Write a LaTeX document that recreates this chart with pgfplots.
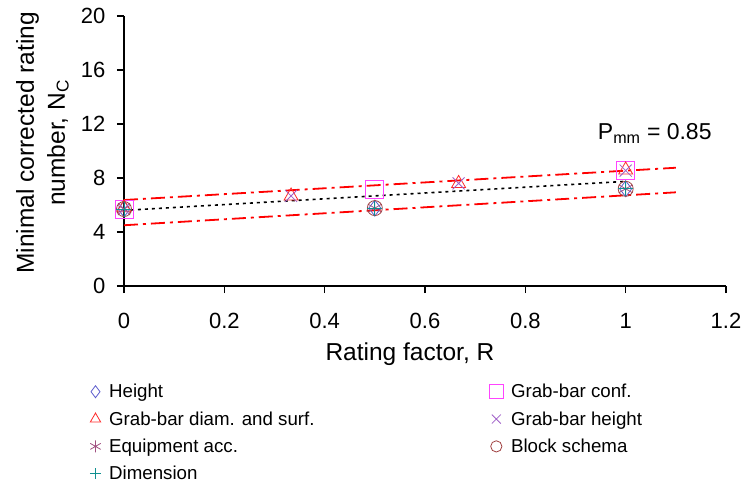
\documentclass[border=0pt]{standalone}
\usepackage{fontspec}
\setmainfont{Liberation Sans}
\usepackage{pgfplots}
\pgfplotsset{compat=1.18}
\definecolor{cHeight}{HTML}{5A5ACC}
\definecolor{cConf}{HTML}{FF44FF}
\definecolor{cDiam}{HTML}{FF2A2A}
\definecolor{cGbh}{HTML}{A060C8}
\definecolor{cEq}{HTML}{A05080}
\definecolor{cBlock}{HTML}{A04040}
\definecolor{cDim}{HTML}{109090}
\begin{document}
\begin{tikzpicture}
\begin{axis}[
  name=ax,
  scale only axis,
  width=602pt, height=270pt,
  xmin=0, xmax=1.2, ymin=0, ymax=20,
  axis x line*=bottom, axis y line*=left,
  axis line style={line width=1.2pt},
  xtick={0,0.2,0.4,0.6,0.8,1,1.2},
  ytick={0,4,8,12,16,20},
  tick style={line width=1.2pt, black},
  tick align=outside,
  major tick length=7pt,
  /pgf/number format/assume math mode=true,
  ticklabel style={font=\fontsize{22}{26}\selectfont},
  xticklabel style={yshift=-17pt},
  yticklabel style={xshift=-8pt},
  xlabel={Rating factor, R},
  ylabel={Minimal corrected rating\\number, N\textsubscript{C}},
  label style={font=\fontsize{24.5}{31}\selectfont},
  xlabel style={at={(axis description cs:0.475,0)}, anchor=center, yshift=-68pt},
  ylabel style={align=center, at={(axis description cs:-0.1354,0.53)}, anchor=center},
  legend columns=2,
  legend cell align=left,
  legend style={draw=none, fill=none, at={(axis description cs:-0.062,-0.348)}, anchor=north west,
    font=\fontsize{18.7}{22}\selectfont, row sep=8.3pt,
    /tikz/every odd column/.append style={column sep=6pt},
    /tikz/every even column/.append style={column sep=173pt}},
  legend image code/.code={\draw[#1,/tikz/every mark/.append style={scale=0.75}] plot coordinates {(0pt,0pt)};},
  clip=false,
]
% prediction band and regression
\addplot[forget plot, red, line width=1.8pt, dash pattern=on 14pt off 5pt on 3pt off 5pt] coordinates {(0,6.37) (1.1,8.76)};
\addplot[forget plot, red, line width=1.8pt, dash pattern=on 14pt off 5pt on 3pt off 5pt] coordinates {(0,4.5) (1.1,6.94)};
\addplot[forget plot, black, line width=1.6pt, dash pattern=on 3pt off 4pt] coordinates {(0,5.6) (1,7.75)};
% series
\addplot[only marks, mark=diamond, mark size=8pt, cHeight, mark options={line width=0.8pt}] coordinates {(0,5.7) (0.5,5.77) (1,7.2)};
\addlegendentry{Height}
\addplot[only marks, mark=square, mark size=9pt, cConf, mark options={line width=0.9pt}] coordinates {(0,5.7) (0.5,7.15) (1,8.55)};
\addlegendentry{Grab-bar conf.}
\addplot[only marks, mark=triangle, mark size=8pt, cDiam, mark options={line width=0.8pt}] coordinates {(0,5.8) (0.333,6.67) (0.667,7.6) (1,8.6)};
\addlegendentry{Grab-bar diam. and surf.}
\addplot[only marks, mark=x, mark size=8.5pt, cGbh, mark options={line width=0.8pt}] coordinates {(0,5.7) (0.333,6.67) (0.667,7.6) (1,8.55)};
\addlegendentry{Grab-bar height}
\addplot[only marks, mark=asterisk, mark size=8pt, cEq, mark options={line width=0.8pt}] coordinates {(0,5.7) (0.5,5.77) (1,7.2)};
\addlegendentry{Equipment acc.}
\addplot[only marks, mark=o, mark size=7.5pt, cBlock, mark options={line width=0.8pt}] coordinates {(0,5.7) (0.5,5.77) (1,7.2)};
\addlegendentry{Block schema}
\addplot[only marks, mark=+, mark size=7.5pt, color=cDim, draw=cDim, mark options={line width=0.9pt, draw=cDim}, legend image post style={draw=cDim, color=cDim}] coordinates {(0,5.7) (0.5,5.77) (1,7.2)};
\addlegendentry{Dimension}
\node[font=\fontsize{23}{26}\selectfont, anchor=center] at (axis cs:1.058,11.3) {P\textsubscript{mm} = 0.85};
\end{axis}
\pgfresetboundingbox
\path[use as bounding box] ([xshift=-124pt,yshift=-198pt]ax.south west) rectangle ([xshift=17pt,yshift=16pt]ax.north east);
\end{tikzpicture}
\end{document}
